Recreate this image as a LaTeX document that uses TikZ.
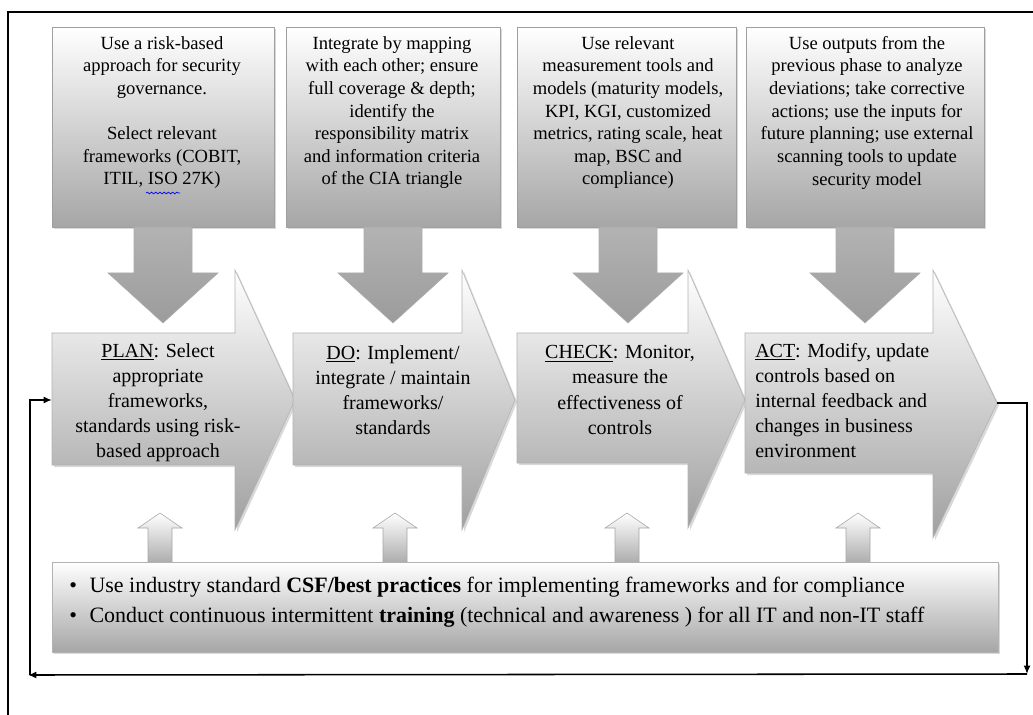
\documentclass[tikz,border=0pt]{standalone}
\usepackage{fontspec}
\setmainfont{Liberation Serif}
\usetikzlibrary{positioning,shadows,arrows.meta,decorations.pathmorphing}

\tikzset{
  topbox/.style={draw=gray!75, top color=white, bottom color=gray!70,
    drop shadow={opacity=0.3, shadow xshift=1.5pt, shadow yshift=-1.5pt}},
  toptext/.style={anchor=north, align=center, inner sep=0pt,
    font=\fontsize{13.2}{16.1}\selectfont},
  downarrow/.style={top color=gray!60, bottom color=gray!78, draw=gray!65},
  chevron/.style={draw=gray!60, top color=white, bottom color=gray!75,
    drop shadow={opacity=0.3, shadow xshift=1.5pt, shadow yshift=-1.5pt}},
  phasetext/.style={align=center, inner sep=0pt, font=\fontsize{14.2}{17.8}\selectfont},
  uparrow/.style={draw=gray!70, top color=white, bottom color=gray!65},
  botbox/.style={draw=gray!60, top color=white, bottom color=gray!70,
    drop shadow={opacity=0.3, shadow xshift=1.5pt, shadow yshift=-1.5pt}},
  bottext/.style={anchor=west, inner sep=0pt, font=\fontsize{15.6}{18}\selectfont},
  flow/.style={line width=1.1pt, -{Latex[length=6pt,width=5pt]}}
}

\begin{document}
\begin{tikzpicture}[x=0.025cm,y=-0.025cm]
  \useasboundingbox (0,0) rectangle (1033,715);
  \draw[line width=1.4pt] (8,715) -- (8,12) -- (1033,12);

  % inputs on top
  \foreach \l/\r in {52/274,286/500,517/736,746/984}
    \path[topbox] (\l,27) rectangle (\r,227);
  \foreach \c in {163,393,628,865}
    \path[downarrow] (\c-29,227) -- (\c+29,227) -- (\c+29,273) -- (\c+55,273)
      -- (\c,323) -- (\c-55,273) -- (\c-29,273) -- cycle;

  \node[toptext] (risk) at (162,36) {Use a risk-based\\approach for security\\governance.\\[16.1pt]
    Select relevant\\frameworks (COBIT,\\ITIL, ISO 27K)};
  \draw[blue, line width=0.5pt, decorate, decoration={snake, amplitude=0.6pt, segment length=3pt}]
    (146,193) -- (180,193);
  \node[toptext] (integ) at (392,36) {Integrate by mapping\\with each other; ensure\\full coverage \& depth;\\identify the\\responsibility matrix\\and information criteria\\of the CIA triangle};
  \node[toptext] (measure) at (628,36) {Use relevant\\measurement tools and\\models (maturity models,\\KPI, KGI, customized\\metrics, rating scale, heat\\map, BSC and\\compliance)};
  \node[toptext] (outputs) at (867,36) {Use outputs from the\\previous phase to analyze\\deviations; take corrective\\actions; use the inputs for\\future planning; use external\\scanning tools to update\\security model};

  % the four phases
  \foreach \l/\r/\t/\ty/\b/\hb in {52/235/295/400/465/530, 293/462/515/400/465/530,
      517/688/745/400/463/528, 745/933/997/403/473/538}
    \path[chevron] (\l,333) -- (\r,333) -- (\r,270) -- (\t,\ty) -- (\r,\hb)
      -- (\r,\b) -- (\l,\b) -- cycle;

  \node[phasetext] (plan) at (158,403) {\underline{PLAN}: Select\\appropriate\\frameworks,\\standards using risk-\\based approach};
  \node[phasetext] (do) at (393,390) {\underline{DO}: Implement/\\integrate / maintain\\frameworks/\\standards};
  \node[phasetext] (check) at (620,390) {\underline{CHECK}: Monitor,\\measure the\\effectiveness of\\controls};
  \node[phasetext, align=left, anchor=north west] (act) at (755,343) {\underline{ACT}: Modify, update\\controls based on\\internal feedback and\\changes in business\\environment};

  % support
  \foreach \c in {160,395,627,858}
    \path[uparrow] (\c-12,563) -- (\c-12,528) -- (\c-22,528) -- (\c,513)
      -- (\c+22,528) -- (\c+12,528) -- (\c+12,563);
  \path[botbox] (52,562) rectangle (998,652);
  \node[bottext] (csf) at (69,587) {\textbullet\hspace{9pt}Use industry standard \textbf{CSF/best practices} for implementing frameworks and for compliance};
  \node[bottext] (train) at (69,617) {\textbullet\hspace{9pt}Conduct continuous intermittent \textbf{training} (technical and awareness ) for all IT and non-IT staff};

  % feedback loop
  \coordinate (actout) at (997,403);
  \coordinate (rcorner) at (1027,674);
  \coordinate (lcorner) at (28,675);
  \coordinate (lturn) at (30,675);
  \coordinate (planin) at (52,400);
  \draw[flow] (actout) -| (rcorner);
  \draw[flow] (rcorner) -- (lcorner);
  \draw[flow] (lturn) |- (planin);
\end{tikzpicture}
\end{document}
